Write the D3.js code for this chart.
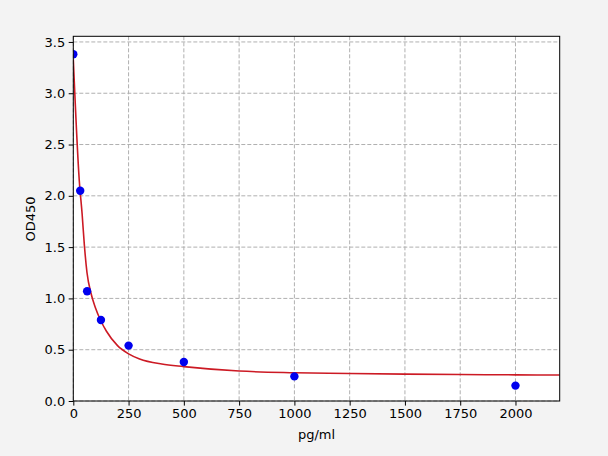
<!DOCTYPE html>
<html>
<head>
<meta charset="utf-8">
<script src="https://cdn.jsdelivr.net/npm/d3@7"></script>
<style>
  body { margin: 0; background: #f3f3f3; }
  text { font-family: "DejaVu Sans", sans-serif; }
</style>
</head>
<body>
<div id="chart"></div>
<script>
// standard points (pg/ml vs OD450)
var conc = [0, 31.25, 62.5, 125, 250, 500, 1000, 2000];
var od = [3.38, 2.05, 1.07, 0.79, 0.54, 0.38, 0.24, 0.15];

// fitted curve
var curveX = [0, 27, 40, 50, 62, 80, 100, 125, 150, 200, 250, 300, 400, 500, 750, 1000, 1250, 1500, 1750, 2000, 2200];
var curveY = [3.33, 2.15, 1.82, 1.52, 1.25, 1.05, 0.91, 0.78, 0.68, 0.54, 0.46, 0.41, 0.36, 0.335, 0.292, 0.276, 0.268, 0.262, 0.258, 0.255, 0.253];

var xTicks = [0, 250, 500, 750, 1000, 1250, 1500, 1750, 2000];
var yTicks = [0, 0.5, 1.0, 1.5, 2.0, 2.5, 3.0, 3.5];

var W = 608, H = 456;
var padL = 73.3, padR = 559.7, padT = 36.3, padB = 401;

var svg = d3.select("#chart")
    .append("svg")
    .attr("width", W)
    .attr("height", H);

svg.append("rect")
    .attr("width", W).attr("height", H)
    .attr("fill", "#f3f3f3");

var x = d3.scaleLinear().domain([0, 2200]).range([padL, padR]);
var y = d3.scaleLinear().domain([0, 3.555]).range([padB, padT]);

// plot area
svg.append("rect")
    .attr("x", padL).attr("y", padT)
    .attr("width", padR - padL).attr("height", padB - padT)
    .attr("fill", "#ffffff");

svg.append("clipPath").attr("id", "clip")
    .append("rect")
    .attr("x", padL).attr("y", padT)
    .attr("width", padR - padL).attr("height", padB - padT);

// grid
var grid = svg.append("g");
grid.selectAll(".gx")
    .data(xTicks)
    .enter().append("line")
    .attr("x1", d => x(d)).attr("x2", d => x(d))
    .attr("y1", padT).attr("y2", padB);
grid.selectAll(".gy")
    .data(yTicks)
    .enter().append("line")
    .attr("x1", padL).attr("x2", padR)
    .attr("y1", d => y(d)).attr("y2", d => y(d));
grid.selectAll("line")
    .attr("stroke", "#b0b0b0")
    .attr("stroke-width", 1)
    .attr("stroke-dasharray", "4,2");

// fitted curve
var line = d3.line()
    .x((d, i) => x(curveX[i]))
    .y(d => y(d))
    .curve(d3.curveMonotoneX);

svg.append("path")
    .datum(curveY)
    .attr("clip-path", "url(#clip)")
    .attr("fill", "none")
    .attr("stroke", "#cc1a24")
    .attr("stroke-width", 1.6)
    .attr("d", line);

// points
svg.append("g")
    .attr("clip-path", "url(#clip)")
    .selectAll("circle")
    .data(od)
    .enter().append("circle")
    .attr("cx", (d, i) => x(conc[i]))
    .attr("cy", d => y(d))
    .attr("r", 4.2)
    .attr("fill", "#0000ee");

// axes
var xAxis = d3.axisBottom(x)
    .tickValues(xTicks)
    .tickSize(4.6)
    .tickPadding(3.5)
    .tickFormat(d3.format("d"));
var yAxis = d3.axisLeft(y)
    .tickValues(yTicks)
    .tickSize(4.6)
    .tickPadding(3.5)
    .tickFormat(d3.format(".1f"));

svg.append("g")
    .attr("transform", "translate(0," + padB + ")")
    .call(xAxis)
    .call(g => g.select(".domain").remove());
svg.append("g")
    .attr("transform", "translate(" + padL + ",0)")
    .call(yAxis)
    .call(g => g.select(".domain").remove());

svg.selectAll(".tick text")
    .attr("font-size", "13px")
    .attr("font-family", "DejaVu Sans, sans-serif")
    .attr("fill", "#000");
svg.selectAll(".tick line").attr("stroke", "#000");

// spines
svg.append("rect")
    .attr("x", padL).attr("y", padT)
    .attr("width", padR - padL).attr("height", padB - padT)
    .attr("fill", "none")
    .attr("stroke", "#000")
    .attr("stroke-width", 1);

// axis titles
svg.append("text")
    .attr("x", (padL + padR) / 2)
    .attr("y", 439)
    .attr("text-anchor", "middle")
    .attr("font-size", "13px")
    .text("pg/ml");

svg.append("text")
    .attr("transform", "translate(35,219) rotate(-90)")
    .attr("text-anchor", "middle")
    .attr("font-size", "13px")
    .text("OD450");
</script>
</body>
</html>
